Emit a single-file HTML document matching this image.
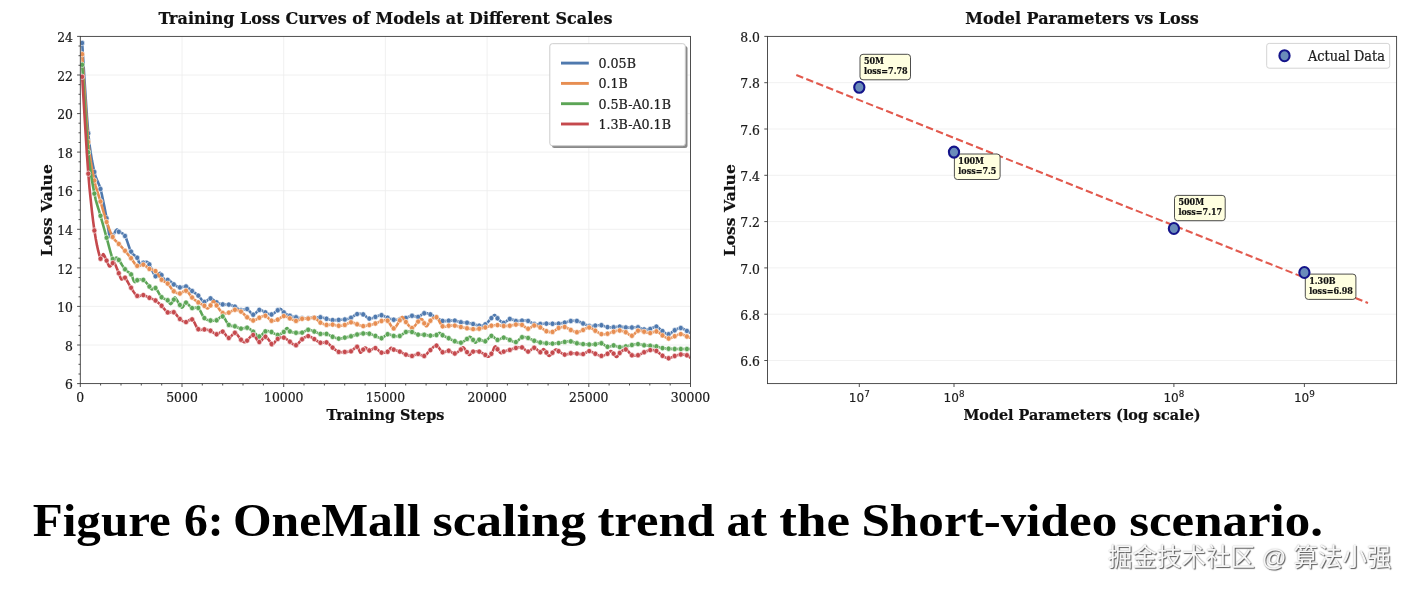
<!DOCTYPE html>
<html lang="en"><head><meta charset="utf-8"><title>Figure 6: OneMall scaling trend</title>
<style>
html,body{margin:0;padding:0;background:#fff}
body{width:1412px;height:590px;overflow:hidden;position:relative}
svg{display:block}
.s{font-family:"DejaVu Serif","Liberation Serif",serif;stroke:#1c1c1c;stroke-width:.22px}
.sb{font-family:"DejaVu Serif","Liberation Serif",serif;font-weight:bold;stroke:#111;stroke-width:.2px}
.ss{font-family:"DejaVu Sans","Liberation Sans",sans-serif;stroke:#1c1c1c;stroke-width:.15px}
.cap{font-family:"Liberation Serif","DejaVu Serif",serif;font-weight:bold}
.wm{font-family:"Liberation Sans","Noto Sans CJK SC","WenQuanYi Zen Hei",sans-serif}
</style></head>
<body>
<svg width="1412" height="590" viewBox="0 0 1412 590">
<rect width="1412" height="590" fill="#fff"/>
<defs><clipPath id="cl"><rect x="80.3" y="36.4" width="610.2" height="347.2"/></clipPath></defs>
<path d="M80.3,345.0H690.5M80.3,306.4H690.5M80.3,267.9H690.5M80.3,229.3H690.5M80.3,190.7H690.5M80.3,152.1H690.5M80.3,113.6H690.5M80.3,75.0H690.5M182.0,36.4V383.6M283.7,36.4V383.6M385.4,36.4V383.6M487.1,36.4V383.6M588.8,36.4V383.6" stroke="#ececec" stroke-width="0.8" fill="none"/>
<g clip-path="url(#cl)">
<path d="M82.2,43.0 L83.0,56.1 L84.2,75.1 L85.6,96.6 L87.0,117.1 L88.3,133.3 L89.5,144.7 L90.8,153.5 L92.0,160.6 L93.2,166.5 L94.4,172.0 L95.6,176.6 L96.9,179.8 L98.1,182.4 L99.3,185.2 L100.5,189.0 L101.8,194.3 L103.1,200.4 L104.4,206.8 L105.6,213.0 L106.6,218.3 L107.4,222.9 L108.0,227.0 L108.6,230.7 L109.0,233.7 L109.6,235.9 L110.2,237.1 L110.8,237.3 L111.4,236.9 L112.1,236.2 L112.7,235.5 L113.5,234.5 L114.4,233.1 L115.2,231.6 L116.0,230.3 L116.7,229.6 L117.2,229.5 L117.5,229.8 L117.8,230.4 L118.2,231.1 L118.8,231.8 L119.8,232.3 L121.0,232.8 L122.3,233.4 L123.7,234.4 L125.0,236.0 L126.2,238.5 L127.4,241.9 L128.6,245.5 L129.8,248.9 L131.1,251.6 L132.3,253.5 L133.7,254.8 L135.0,255.8 L136.2,256.8 L137.2,257.8 L137.9,259.0 L138.3,260.3 L138.6,261.5 L139.0,262.5 L139.5,263.2 L140.2,263.5 L140.9,263.5 L141.7,263.3 L142.5,263.0 L143.3,262.8 L144.0,262.6 L144.8,262.3 L145.5,262.0 L146.2,261.8 L146.8,261.8 L147.3,261.9 L147.7,262.1 L148.1,262.5 L148.7,263.2 L149.4,264.4 L150.4,266.4 L151.7,269.2 L153.0,272.1 L154.3,274.7 L155.5,276.2 L156.5,276.4 L157.5,275.7 L158.4,274.5 L159.2,273.4 L159.9,272.9 L160.4,272.9 L160.7,273.2 L160.9,273.7 L161.2,274.3 L161.6,275.1 L162.3,276.2 L163.1,277.6 L164.0,279.1 L164.8,280.4 L165.5,281.2 L166.1,281.4 L166.6,281.2 L167.0,280.7 L167.4,280.2 L167.7,279.9 L168.0,279.7 L168.1,279.5 L168.2,279.4 L168.4,279.4 L168.9,279.7 L169.6,280.4 L170.5,281.3 L171.6,282.4 L172.7,283.5 L173.8,284.4 L175.0,285.2 L176.2,285.9 L177.4,286.6 L178.7,287.1 L179.9,287.4 L181.1,287.4 L182.4,287.1 L183.6,286.7 L184.8,286.4 L186.0,286.5 L187.3,287.1 L188.5,287.9 L189.7,288.9 L190.9,290.0 L192.1,291.0 L193.4,291.9 L194.6,292.7 L195.8,293.6 L197.0,294.6 L198.3,295.6 L199.5,296.9 L200.7,298.5 L201.9,300.1 L203.1,301.3 L204.4,302.0 L205.6,301.8 L206.8,300.9 L208.0,299.8 L209.2,298.8 L210.5,298.4 L211.7,298.7 L212.9,299.5 L214.1,300.6 L215.4,301.6 L216.6,302.4 L217.8,303.0 L219.0,303.4 L220.2,303.8 L221.5,304.1 L222.7,304.4 L223.9,304.5 L225.1,304.5 L226.3,304.5 L227.6,304.5 L228.8,304.6 L230.0,304.9 L231.2,305.2 L232.5,305.6 L233.7,306.1 L234.9,306.6 L236.1,307.3 L237.3,308.2 L238.6,309.1 L239.8,309.9 L241.0,310.3 L242.2,310.2 L243.5,309.8 L244.7,309.3 L245.9,308.9 L247.1,309.0 L248.3,309.9 L249.6,311.3 L250.8,312.8 L252.0,314.1 L253.2,314.7 L254.4,314.3 L255.7,313.2 L256.9,311.8 L258.1,310.6 L259.3,309.9 L260.6,309.9 L261.8,310.4 L263.0,311.1 L264.2,311.8 L265.4,312.4 L266.7,312.9 L267.9,313.6 L269.1,314.1 L270.3,314.5 L271.5,314.5 L272.8,314.0 L274.1,313.1 L275.4,312.1 L276.6,311.1 L277.7,310.3 L278.4,309.8 L279.1,309.3 L279.6,309.0 L280.0,308.9 L280.6,309.0 L281.2,309.4 L281.7,310.0 L282.3,310.8 L282.9,311.6 L283.8,312.4 L284.8,313.1 L286.0,313.9 L287.3,314.6 L288.6,315.2 L289.9,315.8 L291.1,316.2 L292.3,316.6 L293.5,316.8 L294.8,317.1 L296.0,317.3 L297.2,317.5 L298.4,317.8 L299.6,318.0 L300.9,318.2 L302.1,318.3 L303.3,318.4 L304.5,318.4 L305.8,318.3 L307.0,318.3 L308.2,318.2 L309.4,318.1 L310.6,318.0 L311.9,317.8 L313.1,317.7 L314.3,317.6 L315.5,317.5 L316.7,317.4 L318.0,317.3 L319.2,317.2 L320.4,317.3 L321.6,317.5 L322.9,317.8 L324.1,318.1 L325.3,318.5 L326.5,318.8 L327.7,319.1 L329.0,319.4 L330.2,319.7 L331.4,319.9 L332.6,320.1 L333.8,320.2 L335.1,320.1 L336.3,320.1 L337.5,320.0 L338.7,319.9 L340.0,319.9 L341.2,319.8 L342.4,319.8 L343.6,319.7 L344.8,319.5 L346.1,319.3 L347.3,319.0 L348.5,318.7 L349.7,318.3 L351.0,317.8 L352.2,317.1 L353.4,316.3 L354.6,315.4 L355.8,314.6 L357.1,314.1 L358.3,313.8 L359.5,313.7 L360.7,313.8 L361.9,314.0 L363.2,314.4 L364.4,315.1 L365.6,316.1 L366.8,317.2 L368.1,318.1 L369.3,318.6 L370.5,318.6 L371.7,318.3 L372.9,317.9 L374.2,317.3 L375.4,316.9 L376.6,316.5 L377.8,316.0 L379.0,315.6 L380.3,315.3 L381.5,315.2 L382.7,315.5 L383.9,316.0 L385.2,316.6 L386.4,317.3 L387.6,317.8 L388.8,318.3 L390.0,318.7 L391.3,319.1 L392.5,319.5 L393.7,319.7 L394.9,319.8 L396.2,319.8 L397.4,319.8 L398.6,319.7 L399.8,319.5 L401.0,319.3 L402.3,319.0 L403.5,318.7 L404.7,318.4 L405.9,318.0 L407.1,317.6 L408.4,317.0 L409.6,316.5 L410.8,316.0 L412.0,315.8 L413.3,315.9 L414.5,316.2 L415.7,316.6 L416.9,316.9 L418.1,316.9 L419.4,316.4 L420.6,315.6 L421.8,314.6 L423.0,313.8 L424.2,313.3 L425.5,313.2 L426.7,313.3 L427.9,313.6 L429.1,314.0 L430.4,314.4 L431.6,314.9 L432.8,315.5 L434.0,316.1 L435.2,316.8 L436.5,317.5 L437.7,318.2 L438.9,319.0 L440.1,319.8 L441.4,320.4 L442.6,320.9 L443.8,321.1 L445.0,321.1 L446.2,320.9 L447.5,320.8 L448.7,320.7 L449.9,320.6 L451.1,320.6 L452.3,320.5 L453.6,320.5 L454.8,320.6 L456.0,320.8 L457.2,321.2 L458.5,321.6 L459.7,322.0 L460.9,322.3 L462.1,322.4 L463.3,322.5 L464.6,322.5 L465.8,322.6 L467.0,322.7 L468.2,322.9 L469.4,323.1 L470.7,323.4 L471.9,323.7 L473.1,324.0 L474.3,324.4 L475.6,324.8 L476.8,325.2 L478.0,325.5 L479.2,325.7 L480.4,325.7 L481.7,325.6 L482.9,325.4 L484.1,325.0 L485.3,324.4 L486.6,323.4 L487.9,322.1 L489.2,320.6 L490.4,319.2 L491.4,318.1 L492.3,317.2 L492.9,316.4 L493.5,315.7 L494.0,315.3 L494.6,315.1 L495.2,315.3 L495.6,315.9 L496.1,316.6 L496.8,317.5 L497.5,318.3 L498.6,319.3 L499.8,320.5 L501.1,321.6 L502.4,322.5 L503.7,322.9 L504.9,322.6 L506.1,321.6 L507.3,320.5 L508.5,319.4 L509.8,318.9 L511.0,319.0 L512.2,319.4 L513.4,320.0 L514.6,320.6 L515.9,321.0 L517.1,321.1 L518.3,321.0 L519.5,320.8 L520.8,320.7 L522.0,320.6 L523.2,320.6 L524.4,320.5 L525.6,320.5 L526.9,320.6 L528.1,320.9 L529.3,321.4 L530.5,322.1 L531.7,322.8 L533.0,323.5 L534.2,324.0 L535.4,324.2 L536.6,324.2 L537.9,324.2 L539.1,324.1 L540.3,324.0 L541.5,323.9 L542.7,323.8 L544.0,323.7 L545.2,323.6 L546.4,323.6 L547.6,323.6 L548.9,323.7 L550.1,323.7 L551.3,323.8 L552.5,323.8 L553.7,323.8 L555.0,323.8 L556.2,323.8 L557.4,323.7 L558.6,323.6 L559.8,323.5 L561.1,323.3 L562.3,323.1 L563.5,322.9 L564.7,322.6 L566.0,322.3 L567.2,321.9 L568.4,321.6 L569.6,321.2 L570.8,321.0 L572.1,320.8 L573.3,320.7 L574.5,320.7 L575.7,320.7 L576.9,320.9 L578.2,321.2 L579.4,321.8 L580.6,322.3 L581.8,322.9 L583.1,323.5 L584.3,324.1 L585.5,324.6 L586.7,325.2 L587.9,325.7 L589.2,326.0 L590.4,326.1 L591.6,326.0 L592.8,325.9 L594.1,325.7 L595.3,325.6 L596.5,325.5 L597.7,325.3 L598.9,325.2 L600.2,325.1 L601.4,325.2 L602.6,325.5 L603.8,325.9 L605.0,326.4 L606.3,326.8 L607.5,327.1 L608.7,327.3 L609.9,327.3 L611.2,327.4 L612.4,327.3 L613.6,327.3 L614.8,327.2 L616.0,327.0 L617.3,326.8 L618.5,326.7 L619.7,326.6 L620.9,326.7 L622.1,326.9 L623.4,327.1 L624.6,327.4 L625.8,327.5 L627.0,327.6 L628.3,327.6 L629.5,327.6 L630.7,327.5 L631.9,327.5 L633.1,327.4 L634.4,327.3 L635.6,327.2 L636.8,327.2 L638.0,327.3 L639.2,327.6 L640.5,328.1 L641.7,328.6 L642.9,329.1 L644.1,329.4 L645.4,329.5 L646.6,329.5 L647.8,329.4 L649.0,329.2 L650.2,329.0 L651.5,328.5 L652.7,327.9 L653.9,327.2 L655.1,326.7 L656.4,326.6 L657.6,327.1 L658.8,328.0 L660.0,329.1 L661.2,330.2 L662.5,331.1 L663.7,331.9 L664.9,332.8 L666.1,333.6 L667.3,334.1 L668.6,334.3 L669.8,333.9 L671.0,333.1 L672.2,332.1 L673.5,331.1 L674.7,330.3 L675.9,329.6 L677.1,329.0 L678.3,328.5 L679.6,328.1 L680.8,328.0 L682.0,328.3 L683.3,328.8 L684.6,329.6 L685.8,330.3 L686.9,330.9 L687.8,331.4 L688.7,331.8 L689.4,332.2 L690.0,332.6 L690.5,332.8" fill="none" stroke="#4f79ae" stroke-width="2.6" stroke-linejoin="round"/>
<g fill="#4f79ae" stroke="#fff" stroke-width="0.6"><ellipse cx="82.2" cy="43.0" rx="2.50" ry="2.70"/><ellipse cx="88.3" cy="133.3" rx="2.50" ry="2.70"/><ellipse cx="94.4" cy="172.0" rx="2.50" ry="2.70"/><ellipse cx="100.5" cy="189.0" rx="2.50" ry="2.70"/><ellipse cx="106.6" cy="218.3" rx="2.50" ry="2.70"/><ellipse cx="112.7" cy="235.5" rx="2.50" ry="2.70"/><ellipse cx="118.8" cy="231.8" rx="2.50" ry="2.70"/><ellipse cx="125.0" cy="236.0" rx="2.50" ry="2.70"/><ellipse cx="131.1" cy="251.6" rx="2.50" ry="2.70"/><ellipse cx="137.2" cy="257.8" rx="2.50" ry="2.70"/><ellipse cx="143.3" cy="262.8" rx="2.50" ry="2.70"/><ellipse cx="149.4" cy="264.4" rx="2.50" ry="2.70"/><ellipse cx="155.5" cy="276.2" rx="2.50" ry="2.70"/><ellipse cx="161.6" cy="275.1" rx="2.50" ry="2.70"/><ellipse cx="167.7" cy="279.9" rx="2.50" ry="2.70"/><ellipse cx="173.8" cy="284.4" rx="2.50" ry="2.70"/><ellipse cx="179.9" cy="287.4" rx="2.50" ry="2.70"/><ellipse cx="186.0" cy="286.5" rx="2.50" ry="2.70"/><ellipse cx="192.1" cy="291.0" rx="2.50" ry="2.70"/><ellipse cx="198.3" cy="295.6" rx="2.50" ry="2.70"/><ellipse cx="204.4" cy="302.0" rx="2.50" ry="2.70"/><ellipse cx="210.5" cy="298.4" rx="2.50" ry="2.70"/><ellipse cx="216.6" cy="302.4" rx="2.50" ry="2.70"/><ellipse cx="222.7" cy="304.4" rx="2.50" ry="2.70"/><ellipse cx="228.8" cy="304.6" rx="2.50" ry="2.70"/><ellipse cx="234.9" cy="306.6" rx="2.50" ry="2.70"/><ellipse cx="241.0" cy="310.3" rx="2.50" ry="2.70"/><ellipse cx="247.1" cy="309.0" rx="2.50" ry="2.70"/><ellipse cx="253.2" cy="314.7" rx="2.50" ry="2.70"/><ellipse cx="259.3" cy="309.9" rx="2.50" ry="2.70"/><ellipse cx="265.4" cy="312.4" rx="2.50" ry="2.70"/><ellipse cx="271.5" cy="314.5" rx="2.50" ry="2.70"/><ellipse cx="277.7" cy="310.3" rx="2.50" ry="2.70"/><ellipse cx="283.8" cy="312.4" rx="2.50" ry="2.70"/><ellipse cx="289.9" cy="315.8" rx="2.50" ry="2.70"/><ellipse cx="296.0" cy="317.3" rx="2.50" ry="2.70"/><ellipse cx="302.1" cy="318.3" rx="2.50" ry="2.70"/><ellipse cx="308.2" cy="318.2" rx="2.50" ry="2.70"/><ellipse cx="314.3" cy="317.6" rx="2.50" ry="2.70"/><ellipse cx="320.4" cy="317.3" rx="2.50" ry="2.70"/><ellipse cx="326.5" cy="318.8" rx="2.50" ry="2.70"/><ellipse cx="332.6" cy="320.1" rx="2.50" ry="2.70"/><ellipse cx="338.7" cy="319.9" rx="2.50" ry="2.70"/><ellipse cx="344.8" cy="319.5" rx="2.50" ry="2.70"/><ellipse cx="351.0" cy="317.8" rx="2.50" ry="2.70"/><ellipse cx="357.1" cy="314.1" rx="2.50" ry="2.70"/><ellipse cx="363.2" cy="314.4" rx="2.50" ry="2.70"/><ellipse cx="369.3" cy="318.6" rx="2.50" ry="2.70"/><ellipse cx="375.4" cy="316.9" rx="2.50" ry="2.70"/><ellipse cx="381.5" cy="315.2" rx="2.50" ry="2.70"/><ellipse cx="387.6" cy="317.8" rx="2.50" ry="2.70"/><ellipse cx="393.7" cy="319.7" rx="2.50" ry="2.70"/><ellipse cx="399.8" cy="319.5" rx="2.50" ry="2.70"/><ellipse cx="405.9" cy="318.0" rx="2.50" ry="2.70"/><ellipse cx="412.0" cy="315.8" rx="2.50" ry="2.70"/><ellipse cx="418.1" cy="316.9" rx="2.50" ry="2.70"/><ellipse cx="424.2" cy="313.3" rx="2.50" ry="2.70"/><ellipse cx="430.4" cy="314.4" rx="2.50" ry="2.70"/><ellipse cx="436.5" cy="317.5" rx="2.50" ry="2.70"/><ellipse cx="442.6" cy="320.9" rx="2.50" ry="2.70"/><ellipse cx="448.7" cy="320.7" rx="2.50" ry="2.70"/><ellipse cx="454.8" cy="320.6" rx="2.50" ry="2.70"/><ellipse cx="460.9" cy="322.3" rx="2.50" ry="2.70"/><ellipse cx="467.0" cy="322.7" rx="2.50" ry="2.70"/><ellipse cx="473.1" cy="324.0" rx="2.50" ry="2.70"/><ellipse cx="479.2" cy="325.7" rx="2.50" ry="2.70"/><ellipse cx="485.3" cy="324.4" rx="2.50" ry="2.70"/><ellipse cx="491.4" cy="318.1" rx="2.50" ry="2.70"/><ellipse cx="497.5" cy="318.3" rx="2.50" ry="2.70"/><ellipse cx="503.7" cy="322.9" rx="2.50" ry="2.70"/><ellipse cx="509.8" cy="318.9" rx="2.50" ry="2.70"/><ellipse cx="515.9" cy="321.0" rx="2.50" ry="2.70"/><ellipse cx="522.0" cy="320.6" rx="2.50" ry="2.70"/><ellipse cx="528.1" cy="320.9" rx="2.50" ry="2.70"/><ellipse cx="534.2" cy="324.0" rx="2.50" ry="2.70"/><ellipse cx="540.3" cy="324.0" rx="2.50" ry="2.70"/><ellipse cx="546.4" cy="323.6" rx="2.50" ry="2.70"/><ellipse cx="552.5" cy="323.8" rx="2.50" ry="2.70"/><ellipse cx="558.6" cy="323.6" rx="2.50" ry="2.70"/><ellipse cx="564.7" cy="322.6" rx="2.50" ry="2.70"/><ellipse cx="570.8" cy="321.0" rx="2.50" ry="2.70"/><ellipse cx="576.9" cy="320.9" rx="2.50" ry="2.70"/><ellipse cx="583.1" cy="323.5" rx="2.50" ry="2.70"/><ellipse cx="589.2" cy="326.0" rx="2.50" ry="2.70"/><ellipse cx="595.3" cy="325.6" rx="2.50" ry="2.70"/><ellipse cx="601.4" cy="325.2" rx="2.50" ry="2.70"/><ellipse cx="607.5" cy="327.1" rx="2.50" ry="2.70"/><ellipse cx="613.6" cy="327.3" rx="2.50" ry="2.70"/><ellipse cx="619.7" cy="326.6" rx="2.50" ry="2.70"/><ellipse cx="625.8" cy="327.5" rx="2.50" ry="2.70"/><ellipse cx="631.9" cy="327.5" rx="2.50" ry="2.70"/><ellipse cx="638.0" cy="327.3" rx="2.50" ry="2.70"/><ellipse cx="644.1" cy="329.4" rx="2.50" ry="2.70"/><ellipse cx="650.2" cy="329.0" rx="2.50" ry="2.70"/><ellipse cx="656.4" cy="326.6" rx="2.50" ry="2.70"/><ellipse cx="662.5" cy="331.1" rx="2.50" ry="2.70"/><ellipse cx="668.6" cy="334.3" rx="2.50" ry="2.70"/><ellipse cx="674.7" cy="330.3" rx="2.50" ry="2.70"/><ellipse cx="680.8" cy="328.0" rx="2.50" ry="2.70"/><ellipse cx="686.9" cy="330.9" rx="2.50" ry="2.70"/></g>
<path d="M82.2,54.2 L83.0,66.9 L84.2,85.4 L85.6,106.2 L87.0,126.2 L88.3,142.0 L89.5,153.1 L90.8,161.8 L92.0,168.7 L93.2,174.7 L94.4,180.5 L95.6,185.8 L96.9,190.2 L98.1,194.0 L99.3,197.6 L100.5,201.5 L101.7,205.7 L103.0,210.0 L104.2,214.2 L105.4,218.3 L106.6,222.0 L107.9,225.5 L109.1,228.8 L110.3,231.8 L111.5,234.6 L112.7,237.0 L114.0,238.9 L115.2,240.3 L116.4,241.5 L117.6,242.6 L118.8,243.9 L120.1,245.3 L121.3,246.6 L122.5,248.0 L123.7,249.4 L125.0,250.8 L126.2,252.2 L127.4,253.7 L128.6,255.2 L129.8,256.7 L131.1,258.2 L132.3,259.9 L133.5,261.7 L134.7,263.5 L136.0,264.9 L137.2,265.9 L138.4,266.1 L139.6,265.8 L140.8,265.1 L142.1,264.6 L143.3,264.6 L144.5,265.1 L145.7,266.0 L146.9,267.1 L148.2,268.1 L149.4,268.9 L150.6,269.4 L151.8,269.6 L153.1,269.9 L154.3,270.3 L155.5,271.1 L156.7,272.5 L157.9,274.3 L159.2,276.3 L160.4,278.2 L161.6,279.7 L162.8,280.7 L164.0,281.4 L165.3,282.0 L166.5,282.7 L167.7,283.6 L168.9,285.0 L170.2,286.7 L171.4,288.4 L172.6,290.1 L173.8,291.3 L175.0,292.2 L176.3,292.8 L177.5,293.2 L178.7,293.5 L179.9,293.5 L181.1,293.1 L182.4,292.3 L183.6,291.4 L184.8,290.7 L186.0,290.7 L187.3,291.5 L188.5,292.8 L189.7,294.5 L190.9,296.1 L192.1,297.5 L193.4,298.6 L194.6,299.7 L195.8,300.6 L197.0,301.5 L198.3,302.4 L199.5,303.2 L200.8,303.9 L202.1,304.6 L203.3,305.2 L204.4,305.8 L205.2,306.5 L205.8,307.2 L206.4,307.8 L206.9,308.3 L207.5,308.4 L208.1,308.2 L208.7,307.7 L209.3,307.0 L209.9,306.2 L210.5,305.4 L211.1,304.5 L211.7,303.4 L212.3,302.3 L212.9,301.4 L213.5,301.1 L214.1,301.4 L214.6,302.0 L215.1,303.0 L215.8,304.2 L216.6,305.4 L217.6,306.8 L218.8,308.6 L220.1,310.4 L221.4,311.9 L222.7,313.0 L223.9,313.5 L225.1,313.5 L226.3,313.3 L227.6,313.0 L228.8,312.6 L230.0,312.1 L231.2,311.4 L232.5,310.7 L233.7,310.1 L234.9,309.8 L236.1,309.8 L237.3,310.0 L238.6,310.4 L239.8,310.9 L241.0,311.6 L242.2,312.5 L243.5,313.7 L244.7,315.0 L245.9,316.3 L247.1,317.3 L248.3,318.2 L249.6,319.0 L250.8,319.8 L252.0,320.3 L253.2,320.5 L254.4,320.3 L255.7,319.8 L256.9,319.1 L258.1,318.4 L259.3,317.8 L260.6,317.2 L261.8,316.6 L263.0,316.1 L264.2,315.7 L265.4,315.8 L266.7,316.4 L267.9,317.6 L269.1,318.8 L270.3,320.0 L271.5,320.7 L272.8,320.9 L274.0,320.8 L275.2,320.5 L276.4,320.1 L277.7,319.6 L278.9,319.0 L280.1,318.1 L281.3,317.2 L282.5,316.5 L283.8,316.1 L285.0,316.2 L286.2,316.6 L287.4,317.2 L288.7,317.8 L289.9,318.4 L291.1,319.0 L292.3,319.6 L293.5,320.2 L294.8,320.7 L296.0,320.9 L297.2,320.7 L298.4,320.3 L299.6,319.7 L300.9,319.2 L302.1,318.8 L303.3,318.6 L304.5,318.6 L305.8,318.6 L307.0,318.6 L308.2,318.6 L309.4,318.4 L310.6,318.1 L311.9,317.7 L313.1,317.6 L314.3,317.8 L315.5,318.4 L316.7,319.4 L318.0,320.6 L319.2,321.7 L320.4,322.6 L321.6,323.3 L322.9,323.8 L324.1,324.3 L325.3,324.6 L326.5,324.9 L327.7,325.0 L329.0,324.9 L330.2,324.7 L331.4,324.6 L332.6,324.6 L333.8,324.8 L335.1,325.1 L336.3,325.4 L337.5,325.7 L338.7,325.8 L340.0,325.8 L341.2,325.7 L342.4,325.5 L343.6,325.2 L344.8,324.9 L346.1,324.4 L347.3,323.8 L348.5,323.1 L349.7,322.6 L351.0,322.3 L352.2,322.4 L353.4,322.8 L354.6,323.3 L355.8,323.8 L357.1,324.3 L358.3,324.7 L359.5,325.2 L360.7,325.6 L361.9,325.9 L363.2,326.1 L364.4,326.1 L365.6,325.9 L366.8,325.6 L368.1,325.3 L369.3,325.0 L370.5,324.7 L371.7,324.5 L372.9,324.2 L374.2,323.9 L375.4,323.5 L376.6,323.0 L377.8,322.5 L379.0,321.9 L380.3,321.4 L381.5,321.0 L382.7,320.7 L383.9,320.3 L385.2,320.1 L386.4,320.2 L387.6,320.7 L388.8,322.0 L390.0,324.0 L391.3,326.1 L392.5,327.7 L393.7,328.4 L395.0,327.7 L396.3,326.1 L397.6,324.0 L398.8,321.9 L399.8,320.3 L400.5,319.2 L401.1,318.2 L401.5,317.4 L401.9,317.0 L402.4,316.9 L403.0,317.4 L403.6,318.3 L404.3,319.5 L405.0,320.8 L405.9,322.0 L407.0,323.3 L408.2,324.9 L409.5,326.4 L410.8,327.6 L412.0,328.0 L413.3,327.5 L414.6,326.2 L415.9,324.5 L417.1,322.8 L418.1,321.6 L419.0,320.7 L419.8,320.0 L420.4,319.4 L421.0,319.0 L421.6,319.0 L422.2,319.4 L422.7,320.3 L423.2,321.3 L423.7,322.4 L424.2,323.3 L424.7,324.1 L425.2,325.0 L425.6,325.8 L426.1,326.3 L426.7,326.3 L427.3,325.7 L428.0,324.6 L428.7,323.2 L429.4,321.8 L430.4,320.7 L431.4,319.7 L432.6,318.5 L433.9,317.6 L435.2,317.1 L436.5,317.2 L437.7,318.4 L438.9,320.4 L440.1,322.8 L441.4,324.9 L442.6,326.3 L443.8,326.8 L445.0,326.7 L446.2,326.4 L447.5,325.9 L448.7,325.7 L449.9,325.6 L451.1,325.6 L452.3,325.5 L453.6,325.5 L454.8,325.6 L456.0,325.8 L457.2,326.1 L458.5,326.4 L459.7,326.7 L460.9,327.0 L462.1,327.3 L463.3,327.6 L464.6,327.8 L465.8,328.1 L467.0,328.3 L468.2,328.5 L469.4,328.7 L470.7,328.9 L471.9,329.0 L473.1,329.1 L474.3,329.1 L475.6,329.1 L476.8,329.0 L478.0,328.9 L479.2,328.7 L480.4,328.5 L481.7,328.3 L482.9,328.0 L484.1,327.7 L485.3,327.4 L486.5,327.1 L487.8,326.7 L489.0,326.3 L490.2,326.0 L491.4,325.7 L492.7,325.5 L493.9,325.3 L495.1,325.2 L496.3,325.1 L497.5,325.1 L498.8,325.2 L500.0,325.4 L501.2,325.7 L502.4,325.9 L503.7,326.0 L504.9,326.0 L506.1,326.0 L507.3,325.9 L508.5,325.8 L509.8,325.7 L511.0,325.5 L512.2,325.3 L513.4,325.0 L514.6,324.7 L515.9,324.6 L517.1,324.5 L518.3,324.5 L519.5,324.5 L520.8,324.6 L522.0,324.9 L523.2,325.5 L524.4,326.5 L525.6,327.5 L526.9,328.3 L528.1,328.7 L529.3,328.4 L530.5,327.7 L531.7,326.7 L533.0,325.9 L534.2,325.5 L535.4,325.5 L536.6,325.8 L537.9,326.3 L539.1,326.8 L540.3,327.4 L541.5,328.1 L542.7,328.9 L544.0,329.8 L545.2,330.6 L546.4,331.2 L547.6,331.6 L548.9,331.9 L550.1,332.1 L551.3,332.1 L552.5,331.9 L553.7,331.4 L555.0,330.5 L556.2,329.6 L557.4,328.7 L558.6,328.0 L559.8,327.6 L561.1,327.2 L562.3,327.0 L563.5,326.9 L564.7,327.0 L566.0,327.4 L567.2,328.0 L568.4,328.7 L569.6,329.4 L570.8,330.0 L572.1,330.6 L573.3,331.1 L574.5,331.7 L575.7,332.1 L576.9,332.2 L578.2,332.0 L579.4,331.7 L580.6,331.1 L581.8,330.5 L583.1,330.0 L584.3,329.4 L585.5,328.7 L586.7,328.1 L587.9,327.6 L589.2,327.5 L590.4,327.8 L591.6,328.4 L592.8,329.1 L594.1,330.0 L595.3,330.7 L596.5,331.4 L597.7,332.2 L598.9,333.0 L600.2,333.7 L601.4,334.1 L602.6,334.3 L603.8,334.3 L605.0,334.2 L606.3,333.9 L607.5,333.7 L608.7,333.4 L609.9,333.0 L611.2,332.5 L612.4,332.1 L613.6,331.7 L614.8,331.4 L616.0,331.0 L617.3,330.7 L618.5,330.5 L619.7,330.5 L620.9,330.6 L622.1,330.9 L623.4,331.2 L624.6,331.7 L625.8,332.2 L627.0,332.9 L628.3,333.9 L629.5,334.9 L630.7,335.6 L631.9,335.8 L633.1,335.2 L634.4,334.1 L635.6,332.7 L636.8,331.5 L638.0,330.7 L639.2,330.5 L640.5,330.6 L641.7,331.0 L642.9,331.4 L644.1,331.7 L645.4,332.0 L646.6,332.4 L647.8,332.7 L649.0,333.0 L650.2,333.1 L651.5,332.9 L652.7,332.4 L653.9,331.8 L655.1,331.4 L656.4,331.4 L657.6,331.8 L658.8,332.6 L660.0,333.6 L661.2,334.6 L662.5,335.4 L663.7,336.2 L664.9,337.0 L666.1,337.7 L667.3,338.2 L668.6,338.5 L669.8,338.4 L671.0,338.0 L672.2,337.4 L673.5,336.7 L674.7,336.2 L675.9,335.7 L677.1,335.1 L678.3,334.6 L679.6,334.2 L680.8,334.1 L682.0,334.3 L683.3,334.8 L684.6,335.4 L685.8,336.0 L686.9,336.5 L687.8,336.9 L688.7,337.2 L689.4,337.5 L690.0,337.7 L690.5,337.9" fill="none" stroke="#e78e52" stroke-width="2.6" stroke-linejoin="round"/>
<g fill="#e78e52" stroke="#fff" stroke-width="0.6"><ellipse cx="82.2" cy="54.2" rx="2.50" ry="2.70"/><ellipse cx="88.3" cy="142.0" rx="2.50" ry="2.70"/><ellipse cx="94.4" cy="180.5" rx="2.50" ry="2.70"/><ellipse cx="100.5" cy="201.5" rx="2.50" ry="2.70"/><ellipse cx="106.6" cy="222.0" rx="2.50" ry="2.70"/><ellipse cx="112.7" cy="237.0" rx="2.50" ry="2.70"/><ellipse cx="118.8" cy="243.9" rx="2.50" ry="2.70"/><ellipse cx="125.0" cy="250.8" rx="2.50" ry="2.70"/><ellipse cx="131.1" cy="258.2" rx="2.50" ry="2.70"/><ellipse cx="137.2" cy="265.9" rx="2.50" ry="2.70"/><ellipse cx="143.3" cy="264.6" rx="2.50" ry="2.70"/><ellipse cx="149.4" cy="268.9" rx="2.50" ry="2.70"/><ellipse cx="155.5" cy="271.1" rx="2.50" ry="2.70"/><ellipse cx="161.6" cy="279.7" rx="2.50" ry="2.70"/><ellipse cx="167.7" cy="283.6" rx="2.50" ry="2.70"/><ellipse cx="173.8" cy="291.3" rx="2.50" ry="2.70"/><ellipse cx="179.9" cy="293.5" rx="2.50" ry="2.70"/><ellipse cx="186.0" cy="290.7" rx="2.50" ry="2.70"/><ellipse cx="192.1" cy="297.5" rx="2.50" ry="2.70"/><ellipse cx="198.3" cy="302.4" rx="2.50" ry="2.70"/><ellipse cx="204.4" cy="305.8" rx="2.50" ry="2.70"/><ellipse cx="210.5" cy="305.4" rx="2.50" ry="2.70"/><ellipse cx="216.6" cy="305.4" rx="2.50" ry="2.70"/><ellipse cx="222.7" cy="313.0" rx="2.50" ry="2.70"/><ellipse cx="228.8" cy="312.6" rx="2.50" ry="2.70"/><ellipse cx="234.9" cy="309.8" rx="2.50" ry="2.70"/><ellipse cx="241.0" cy="311.6" rx="2.50" ry="2.70"/><ellipse cx="247.1" cy="317.3" rx="2.50" ry="2.70"/><ellipse cx="253.2" cy="320.5" rx="2.50" ry="2.70"/><ellipse cx="259.3" cy="317.8" rx="2.50" ry="2.70"/><ellipse cx="265.4" cy="315.8" rx="2.50" ry="2.70"/><ellipse cx="271.5" cy="320.7" rx="2.50" ry="2.70"/><ellipse cx="277.7" cy="319.6" rx="2.50" ry="2.70"/><ellipse cx="283.8" cy="316.1" rx="2.50" ry="2.70"/><ellipse cx="289.9" cy="318.4" rx="2.50" ry="2.70"/><ellipse cx="296.0" cy="320.9" rx="2.50" ry="2.70"/><ellipse cx="302.1" cy="318.8" rx="2.50" ry="2.70"/><ellipse cx="308.2" cy="318.6" rx="2.50" ry="2.70"/><ellipse cx="314.3" cy="317.8" rx="2.50" ry="2.70"/><ellipse cx="320.4" cy="322.6" rx="2.50" ry="2.70"/><ellipse cx="326.5" cy="324.9" rx="2.50" ry="2.70"/><ellipse cx="332.6" cy="324.6" rx="2.50" ry="2.70"/><ellipse cx="338.7" cy="325.8" rx="2.50" ry="2.70"/><ellipse cx="344.8" cy="324.9" rx="2.50" ry="2.70"/><ellipse cx="351.0" cy="322.3" rx="2.50" ry="2.70"/><ellipse cx="357.1" cy="324.3" rx="2.50" ry="2.70"/><ellipse cx="363.2" cy="326.1" rx="2.50" ry="2.70"/><ellipse cx="369.3" cy="325.0" rx="2.50" ry="2.70"/><ellipse cx="375.4" cy="323.5" rx="2.50" ry="2.70"/><ellipse cx="381.5" cy="321.0" rx="2.50" ry="2.70"/><ellipse cx="387.6" cy="320.7" rx="2.50" ry="2.70"/><ellipse cx="393.7" cy="328.4" rx="2.50" ry="2.70"/><ellipse cx="399.8" cy="320.3" rx="2.50" ry="2.70"/><ellipse cx="405.9" cy="322.0" rx="2.50" ry="2.70"/><ellipse cx="412.0" cy="328.0" rx="2.50" ry="2.70"/><ellipse cx="418.1" cy="321.6" rx="2.50" ry="2.70"/><ellipse cx="424.2" cy="323.3" rx="2.50" ry="2.70"/><ellipse cx="430.4" cy="320.7" rx="2.50" ry="2.70"/><ellipse cx="436.5" cy="317.2" rx="2.50" ry="2.70"/><ellipse cx="442.6" cy="326.3" rx="2.50" ry="2.70"/><ellipse cx="448.7" cy="325.7" rx="2.50" ry="2.70"/><ellipse cx="454.8" cy="325.6" rx="2.50" ry="2.70"/><ellipse cx="460.9" cy="327.0" rx="2.50" ry="2.70"/><ellipse cx="467.0" cy="328.3" rx="2.50" ry="2.70"/><ellipse cx="473.1" cy="329.1" rx="2.50" ry="2.70"/><ellipse cx="479.2" cy="328.7" rx="2.50" ry="2.70"/><ellipse cx="485.3" cy="327.4" rx="2.50" ry="2.70"/><ellipse cx="491.4" cy="325.7" rx="2.50" ry="2.70"/><ellipse cx="497.5" cy="325.1" rx="2.50" ry="2.70"/><ellipse cx="503.7" cy="326.0" rx="2.50" ry="2.70"/><ellipse cx="509.8" cy="325.7" rx="2.50" ry="2.70"/><ellipse cx="515.9" cy="324.6" rx="2.50" ry="2.70"/><ellipse cx="522.0" cy="324.9" rx="2.50" ry="2.70"/><ellipse cx="528.1" cy="328.7" rx="2.50" ry="2.70"/><ellipse cx="534.2" cy="325.5" rx="2.50" ry="2.70"/><ellipse cx="540.3" cy="327.4" rx="2.50" ry="2.70"/><ellipse cx="546.4" cy="331.2" rx="2.50" ry="2.70"/><ellipse cx="552.5" cy="331.9" rx="2.50" ry="2.70"/><ellipse cx="558.6" cy="328.0" rx="2.50" ry="2.70"/><ellipse cx="564.7" cy="327.0" rx="2.50" ry="2.70"/><ellipse cx="570.8" cy="330.0" rx="2.50" ry="2.70"/><ellipse cx="576.9" cy="332.2" rx="2.50" ry="2.70"/><ellipse cx="583.1" cy="330.0" rx="2.50" ry="2.70"/><ellipse cx="589.2" cy="327.5" rx="2.50" ry="2.70"/><ellipse cx="595.3" cy="330.7" rx="2.50" ry="2.70"/><ellipse cx="601.4" cy="334.1" rx="2.50" ry="2.70"/><ellipse cx="607.5" cy="333.7" rx="2.50" ry="2.70"/><ellipse cx="613.6" cy="331.7" rx="2.50" ry="2.70"/><ellipse cx="619.7" cy="330.5" rx="2.50" ry="2.70"/><ellipse cx="625.8" cy="332.2" rx="2.50" ry="2.70"/><ellipse cx="631.9" cy="335.8" rx="2.50" ry="2.70"/><ellipse cx="638.0" cy="330.7" rx="2.50" ry="2.70"/><ellipse cx="644.1" cy="331.7" rx="2.50" ry="2.70"/><ellipse cx="650.2" cy="333.1" rx="2.50" ry="2.70"/><ellipse cx="656.4" cy="331.4" rx="2.50" ry="2.70"/><ellipse cx="662.5" cy="335.4" rx="2.50" ry="2.70"/><ellipse cx="668.6" cy="338.5" rx="2.50" ry="2.70"/><ellipse cx="674.7" cy="336.2" rx="2.50" ry="2.70"/><ellipse cx="680.8" cy="334.1" rx="2.50" ry="2.70"/><ellipse cx="686.9" cy="336.5" rx="2.50" ry="2.70"/></g>
<path d="M82.2,64.8 L83.0,77.4 L84.2,95.7 L85.6,116.4 L87.0,136.4 L88.3,152.3 L89.5,163.8 L90.8,173.1 L92.0,180.7 L93.2,187.3 L94.4,193.6 L95.6,199.3 L96.9,203.9 L98.1,207.9 L99.3,211.7 L100.5,215.8 L101.7,220.2 L103.0,224.6 L104.2,229.0 L105.4,233.4 L106.6,237.7 L107.9,242.4 L109.2,247.4 L110.5,252.1 L111.7,256.2 L112.7,259.0 L113.6,260.1 L114.4,259.9 L115.0,259.0 L115.6,258.0 L116.2,257.6 L116.7,257.7 L117.2,257.9 L117.6,258.3 L118.1,258.9 L118.8,259.9 L119.8,261.4 L121.0,263.3 L122.3,265.4 L123.7,267.5 L125.0,269.2 L126.2,270.5 L127.5,271.5 L128.8,272.4 L130.0,273.3 L131.1,274.4 L131.9,275.9 L132.6,277.7 L133.2,279.5 L133.8,281.0 L134.4,281.9 L134.9,282.1 L135.4,281.8 L135.9,281.2 L136.4,280.6 L137.2,280.2 L138.2,279.9 L139.4,279.6 L140.7,279.5 L142.0,279.5 L143.3,279.9 L144.6,280.8 L145.9,282.2 L147.2,283.8 L148.4,285.3 L149.4,286.5 L150.1,287.4 L150.6,288.2 L151.0,288.8 L151.4,289.2 L151.9,289.5 L152.5,289.3 L153.1,288.7 L153.8,288.0 L154.6,287.7 L155.5,288.0 L156.6,289.3 L157.8,291.2 L159.0,293.4 L160.3,295.6 L161.6,297.2 L162.9,298.2 L164.2,298.8 L165.5,299.3 L166.7,299.7 L167.7,300.3 L168.5,301.1 L169.1,302.2 L169.6,303.1 L170.1,303.9 L170.6,304.1 L171.3,303.7 L172.0,302.8 L172.6,301.6 L173.3,300.5 L173.8,299.6 L174.2,298.9 L174.3,298.2 L174.5,297.7 L174.7,297.4 L175.2,297.7 L176.0,298.6 L177.0,300.2 L178.0,302.0 L179.1,303.7 L179.9,305.0 L180.5,305.9 L181.0,306.7 L181.4,307.3 L181.9,307.6 L182.4,307.5 L183.0,306.8 L183.7,305.6 L184.3,304.2 L185.1,303.0 L186.0,302.6 L187.1,303.1 L188.3,304.3 L189.6,305.8 L190.9,307.2 L192.1,308.1 L193.4,308.3 L194.6,307.9 L195.8,307.5 L197.0,307.4 L198.3,307.9 L199.5,309.4 L200.7,311.6 L201.9,314.1 L203.1,316.4 L204.4,318.1 L205.6,319.1 L206.8,319.7 L208.0,320.1 L209.2,320.3 L210.5,320.5 L211.7,320.7 L212.9,320.8 L214.1,320.8 L215.4,320.6 L216.6,320.3 L217.8,319.6 L219.0,318.4 L220.2,317.2 L221.5,316.4 L222.7,316.4 L223.9,317.4 L225.1,319.2 L226.3,321.4 L227.6,323.5 L228.8,324.9 L230.0,325.6 L231.2,325.9 L232.5,326.0 L233.7,326.1 L234.9,326.3 L236.1,326.8 L237.3,327.3 L238.6,327.9 L239.8,328.3 L241.0,328.6 L242.2,328.5 L243.5,328.2 L244.7,327.9 L245.9,327.6 L247.1,327.7 L248.3,328.2 L249.6,328.9 L250.8,329.8 L252.0,330.8 L253.2,331.7 L254.4,332.8 L255.7,334.0 L256.9,335.3 L258.1,336.2 L259.3,336.5 L260.6,336.0 L261.8,334.9 L263.0,333.5 L264.2,332.2 L265.4,331.4 L266.7,331.1 L267.9,331.1 L269.1,331.3 L270.3,331.6 L271.5,332.0 L272.8,332.5 L274.0,333.3 L275.2,334.0 L276.4,334.7 L277.7,334.9 L278.9,334.7 L280.2,334.2 L281.5,333.5 L282.7,332.7 L283.8,332.0 L284.6,331.2 L285.2,330.2 L285.8,329.2 L286.3,328.4 L286.9,328.1 L287.5,328.3 L288.0,329.0 L288.5,329.9 L289.1,330.7 L289.9,331.4 L290.9,331.8 L292.1,332.2 L293.4,332.4 L294.7,332.7 L296.0,332.8 L297.2,332.9 L298.4,333.0 L299.6,332.9 L300.9,332.8 L302.1,332.6 L303.3,332.1 L304.5,331.5 L305.8,330.7 L307.0,330.1 L308.2,329.8 L309.4,329.8 L310.6,330.1 L311.9,330.6 L313.1,331.0 L314.3,331.5 L315.5,332.0 L316.7,332.5 L318.0,333.1 L319.2,333.6 L320.4,333.9 L321.6,334.0 L322.9,333.9 L324.1,333.8 L325.3,333.8 L326.5,333.9 L327.7,334.3 L329.0,334.9 L330.2,335.6 L331.4,336.2 L332.6,336.8 L333.8,337.3 L335.1,337.7 L336.3,338.1 L337.5,338.4 L338.7,338.6 L340.0,338.6 L341.2,338.4 L342.4,338.2 L343.6,337.9 L344.8,337.6 L346.1,337.4 L347.3,337.1 L348.5,336.9 L349.7,336.6 L351.0,336.3 L352.2,336.0 L353.4,335.6 L354.6,335.2 L355.8,334.8 L357.1,334.5 L358.3,334.2 L359.5,334.0 L360.7,333.8 L361.9,333.6 L363.2,333.5 L364.4,333.4 L365.6,333.4 L366.8,333.4 L368.1,333.5 L369.3,333.7 L370.5,334.0 L371.7,334.4 L372.9,334.9 L374.2,335.4 L375.4,335.9 L376.6,336.5 L377.8,337.1 L379.0,337.7 L380.3,338.1 L381.5,338.2 L382.7,337.7 L383.9,336.8 L385.2,335.7 L386.4,334.7 L387.6,334.2 L388.8,334.2 L390.0,334.5 L391.3,335.1 L392.5,335.6 L393.7,335.9 L394.9,336.1 L396.2,336.3 L397.4,336.3 L398.6,336.3 L399.8,336.0 L401.0,335.4 L402.3,334.5 L403.5,333.5 L404.7,332.6 L405.9,332.0 L407.1,331.7 L408.4,331.6 L409.6,331.6 L410.8,331.8 L412.0,332.0 L413.3,332.4 L414.5,333.0 L415.7,333.6 L416.9,334.2 L418.1,334.6 L419.4,334.8 L420.6,334.8 L421.8,334.8 L423.0,334.8 L424.2,334.8 L425.5,334.9 L426.7,335.1 L427.9,335.4 L429.1,335.5 L430.4,335.6 L431.6,335.6 L433.0,335.5 L434.2,335.4 L435.4,335.2 L436.5,335.0 L437.3,334.6 L437.9,334.1 L438.4,333.5 L438.8,333.1 L439.4,332.9 L440.0,333.1 L440.5,333.5 L441.1,334.0 L441.7,334.6 L442.6,335.2 L443.6,335.8 L444.8,336.3 L446.1,337.0 L447.4,337.6 L448.7,338.2 L449.9,338.8 L451.1,339.5 L452.3,340.1 L453.6,340.7 L454.8,341.2 L456.0,341.7 L457.2,342.2 L458.5,342.6 L459.7,342.8 L460.9,342.7 L462.2,342.3 L463.5,341.5 L464.8,340.6 L466.0,339.6 L467.0,338.9 L467.8,338.3 L468.4,337.7 L468.9,337.2 L469.4,336.9 L470.0,336.8 L470.6,337.1 L471.3,337.7 L471.9,338.4 L472.5,339.2 L473.1,339.9 L473.6,340.6 L474.1,341.3 L474.5,342.0 L474.9,342.5 L475.5,342.7 L476.1,342.4 L476.8,341.7 L477.5,340.8 L478.3,340.1 L479.2,339.7 L480.3,339.8 L481.5,340.3 L482.8,340.9 L484.1,341.4 L485.3,341.3 L486.5,340.5 L487.8,339.2 L489.0,337.7 L490.2,336.5 L491.4,335.9 L492.7,336.2 L493.9,337.1 L495.1,338.3 L496.3,339.4 L497.5,339.9 L498.8,339.8 L500.0,339.2 L501.2,338.5 L502.4,337.9 L503.7,337.6 L504.9,337.8 L506.1,338.2 L507.3,338.8 L508.5,339.4 L509.8,339.9 L511.0,340.5 L512.2,341.1 L513.4,341.7 L514.6,342.1 L515.9,342.1 L517.1,341.5 L518.3,340.4 L519.5,339.1 L520.8,337.9 L522.0,337.2 L523.2,337.0 L524.4,337.0 L525.6,337.3 L526.9,337.6 L528.1,338.0 L529.3,338.4 L530.5,339.0 L531.7,339.7 L533.0,340.3 L534.2,340.8 L535.4,341.2 L536.6,341.6 L537.9,341.9 L539.1,342.2 L540.3,342.5 L541.5,342.7 L542.7,342.9 L544.0,343.1 L545.2,343.2 L546.4,343.3 L547.6,343.4 L548.9,343.5 L550.1,343.6 L551.3,343.6 L552.5,343.6 L553.7,343.6 L555.0,343.5 L556.2,343.4 L557.4,343.3 L558.6,343.1 L559.8,342.9 L561.1,342.6 L562.3,342.4 L563.5,342.1 L564.7,341.9 L566.0,341.7 L567.2,341.5 L568.4,341.4 L569.6,341.3 L570.8,341.4 L572.1,341.6 L573.3,342.0 L574.5,342.5 L575.7,343.0 L576.9,343.3 L578.2,343.5 L579.4,343.7 L580.6,343.9 L581.8,344.0 L583.1,344.1 L584.3,344.2 L585.5,344.3 L586.7,344.4 L587.9,344.5 L589.2,344.5 L590.4,344.5 L591.6,344.5 L592.8,344.5 L594.1,344.4 L595.3,344.3 L596.5,344.1 L597.7,343.7 L598.9,343.4 L600.2,343.2 L601.4,343.3 L602.6,343.8 L603.8,344.6 L605.0,345.5 L606.3,346.3 L607.5,346.8 L608.7,346.8 L609.9,346.4 L611.2,346.0 L612.4,345.6 L613.6,345.4 L614.8,345.6 L616.0,346.0 L617.3,346.4 L618.5,346.9 L619.7,347.1 L620.9,347.1 L622.1,347.0 L623.4,346.8 L624.6,346.6 L625.8,346.4 L627.0,346.2 L628.3,345.9 L629.5,345.6 L630.7,345.3 L631.9,345.0 L633.1,344.8 L634.4,344.5 L635.6,344.3 L636.8,344.1 L638.0,344.1 L639.2,344.2 L640.5,344.5 L641.7,344.8 L642.9,345.1 L644.1,345.3 L645.4,345.4 L646.6,345.5 L647.8,345.6 L649.0,345.7 L650.2,345.8 L651.5,345.9 L652.7,346.0 L653.9,346.1 L655.1,346.2 L656.4,346.4 L657.6,346.7 L658.8,347.1 L660.0,347.4 L661.2,347.8 L662.5,348.1 L663.7,348.3 L664.9,348.4 L666.1,348.5 L667.3,348.6 L668.6,348.7 L669.8,348.8 L671.0,348.9 L672.2,348.9 L673.5,349.0 L674.7,349.0 L675.9,349.0 L677.1,349.0 L678.3,349.0 L679.6,349.0 L680.8,349.0 L682.0,349.0 L683.3,349.0 L684.6,349.0 L685.8,349.0 L686.9,349.0 L687.8,349.0 L688.7,349.0 L689.4,349.0 L690.0,349.0 L690.5,349.0" fill="none" stroke="#5ca556" stroke-width="2.6" stroke-linejoin="round"/>
<g fill="#5ca556" stroke="#fff" stroke-width="0.6"><ellipse cx="82.2" cy="64.8" rx="2.50" ry="2.70"/><ellipse cx="88.3" cy="152.3" rx="2.50" ry="2.70"/><ellipse cx="94.4" cy="193.6" rx="2.50" ry="2.70"/><ellipse cx="100.5" cy="215.8" rx="2.50" ry="2.70"/><ellipse cx="106.6" cy="237.7" rx="2.50" ry="2.70"/><ellipse cx="112.7" cy="259.0" rx="2.50" ry="2.70"/><ellipse cx="118.8" cy="259.9" rx="2.50" ry="2.70"/><ellipse cx="125.0" cy="269.2" rx="2.50" ry="2.70"/><ellipse cx="131.1" cy="274.4" rx="2.50" ry="2.70"/><ellipse cx="137.2" cy="280.2" rx="2.50" ry="2.70"/><ellipse cx="143.3" cy="279.9" rx="2.50" ry="2.70"/><ellipse cx="149.4" cy="286.5" rx="2.50" ry="2.70"/><ellipse cx="155.5" cy="288.0" rx="2.50" ry="2.70"/><ellipse cx="161.6" cy="297.2" rx="2.50" ry="2.70"/><ellipse cx="167.7" cy="300.3" rx="2.50" ry="2.70"/><ellipse cx="173.8" cy="299.6" rx="2.50" ry="2.70"/><ellipse cx="179.9" cy="305.0" rx="2.50" ry="2.70"/><ellipse cx="186.0" cy="302.6" rx="2.50" ry="2.70"/><ellipse cx="192.1" cy="308.1" rx="2.50" ry="2.70"/><ellipse cx="198.3" cy="307.9" rx="2.50" ry="2.70"/><ellipse cx="204.4" cy="318.1" rx="2.50" ry="2.70"/><ellipse cx="210.5" cy="320.5" rx="2.50" ry="2.70"/><ellipse cx="216.6" cy="320.3" rx="2.50" ry="2.70"/><ellipse cx="222.7" cy="316.4" rx="2.50" ry="2.70"/><ellipse cx="228.8" cy="324.9" rx="2.50" ry="2.70"/><ellipse cx="234.9" cy="326.3" rx="2.50" ry="2.70"/><ellipse cx="241.0" cy="328.6" rx="2.50" ry="2.70"/><ellipse cx="247.1" cy="327.7" rx="2.50" ry="2.70"/><ellipse cx="253.2" cy="331.7" rx="2.50" ry="2.70"/><ellipse cx="259.3" cy="336.5" rx="2.50" ry="2.70"/><ellipse cx="265.4" cy="331.4" rx="2.50" ry="2.70"/><ellipse cx="271.5" cy="332.0" rx="2.50" ry="2.70"/><ellipse cx="277.7" cy="334.9" rx="2.50" ry="2.70"/><ellipse cx="283.8" cy="332.0" rx="2.50" ry="2.70"/><ellipse cx="289.9" cy="331.4" rx="2.50" ry="2.70"/><ellipse cx="296.0" cy="332.8" rx="2.50" ry="2.70"/><ellipse cx="302.1" cy="332.6" rx="2.50" ry="2.70"/><ellipse cx="308.2" cy="329.8" rx="2.50" ry="2.70"/><ellipse cx="314.3" cy="331.5" rx="2.50" ry="2.70"/><ellipse cx="320.4" cy="333.9" rx="2.50" ry="2.70"/><ellipse cx="326.5" cy="333.9" rx="2.50" ry="2.70"/><ellipse cx="332.6" cy="336.8" rx="2.50" ry="2.70"/><ellipse cx="338.7" cy="338.6" rx="2.50" ry="2.70"/><ellipse cx="344.8" cy="337.6" rx="2.50" ry="2.70"/><ellipse cx="351.0" cy="336.3" rx="2.50" ry="2.70"/><ellipse cx="357.1" cy="334.5" rx="2.50" ry="2.70"/><ellipse cx="363.2" cy="333.5" rx="2.50" ry="2.70"/><ellipse cx="369.3" cy="333.7" rx="2.50" ry="2.70"/><ellipse cx="375.4" cy="335.9" rx="2.50" ry="2.70"/><ellipse cx="381.5" cy="338.2" rx="2.50" ry="2.70"/><ellipse cx="387.6" cy="334.2" rx="2.50" ry="2.70"/><ellipse cx="393.7" cy="335.9" rx="2.50" ry="2.70"/><ellipse cx="399.8" cy="336.0" rx="2.50" ry="2.70"/><ellipse cx="405.9" cy="332.0" rx="2.50" ry="2.70"/><ellipse cx="412.0" cy="332.0" rx="2.50" ry="2.70"/><ellipse cx="418.1" cy="334.6" rx="2.50" ry="2.70"/><ellipse cx="424.2" cy="334.8" rx="2.50" ry="2.70"/><ellipse cx="430.4" cy="335.6" rx="2.50" ry="2.70"/><ellipse cx="436.5" cy="335.0" rx="2.50" ry="2.70"/><ellipse cx="442.6" cy="335.2" rx="2.50" ry="2.70"/><ellipse cx="448.7" cy="338.2" rx="2.50" ry="2.70"/><ellipse cx="454.8" cy="341.2" rx="2.50" ry="2.70"/><ellipse cx="460.9" cy="342.7" rx="2.50" ry="2.70"/><ellipse cx="467.0" cy="338.9" rx="2.50" ry="2.70"/><ellipse cx="473.1" cy="339.9" rx="2.50" ry="2.70"/><ellipse cx="479.2" cy="339.7" rx="2.50" ry="2.70"/><ellipse cx="485.3" cy="341.3" rx="2.50" ry="2.70"/><ellipse cx="491.4" cy="335.9" rx="2.50" ry="2.70"/><ellipse cx="497.5" cy="339.9" rx="2.50" ry="2.70"/><ellipse cx="503.7" cy="337.6" rx="2.50" ry="2.70"/><ellipse cx="509.8" cy="339.9" rx="2.50" ry="2.70"/><ellipse cx="515.9" cy="342.1" rx="2.50" ry="2.70"/><ellipse cx="522.0" cy="337.2" rx="2.50" ry="2.70"/><ellipse cx="528.1" cy="338.0" rx="2.50" ry="2.70"/><ellipse cx="534.2" cy="340.8" rx="2.50" ry="2.70"/><ellipse cx="540.3" cy="342.5" rx="2.50" ry="2.70"/><ellipse cx="546.4" cy="343.3" rx="2.50" ry="2.70"/><ellipse cx="552.5" cy="343.6" rx="2.50" ry="2.70"/><ellipse cx="558.6" cy="343.1" rx="2.50" ry="2.70"/><ellipse cx="564.7" cy="341.9" rx="2.50" ry="2.70"/><ellipse cx="570.8" cy="341.4" rx="2.50" ry="2.70"/><ellipse cx="576.9" cy="343.3" rx="2.50" ry="2.70"/><ellipse cx="583.1" cy="344.1" rx="2.50" ry="2.70"/><ellipse cx="589.2" cy="344.5" rx="2.50" ry="2.70"/><ellipse cx="595.3" cy="344.3" rx="2.50" ry="2.70"/><ellipse cx="601.4" cy="343.3" rx="2.50" ry="2.70"/><ellipse cx="607.5" cy="346.8" rx="2.50" ry="2.70"/><ellipse cx="613.6" cy="345.4" rx="2.50" ry="2.70"/><ellipse cx="619.7" cy="347.1" rx="2.50" ry="2.70"/><ellipse cx="625.8" cy="346.4" rx="2.50" ry="2.70"/><ellipse cx="631.9" cy="345.0" rx="2.50" ry="2.70"/><ellipse cx="638.0" cy="344.1" rx="2.50" ry="2.70"/><ellipse cx="644.1" cy="345.3" rx="2.50" ry="2.70"/><ellipse cx="650.2" cy="345.8" rx="2.50" ry="2.70"/><ellipse cx="656.4" cy="346.4" rx="2.50" ry="2.70"/><ellipse cx="662.5" cy="348.1" rx="2.50" ry="2.70"/><ellipse cx="668.6" cy="348.7" rx="2.50" ry="2.70"/><ellipse cx="674.7" cy="349.0" rx="2.50" ry="2.70"/><ellipse cx="680.8" cy="349.0" rx="2.50" ry="2.70"/><ellipse cx="686.9" cy="349.0" rx="2.50" ry="2.70"/></g>
<path d="M82.2,76.8 L83.0,90.6 L84.2,110.5 L85.6,133.2 L87.0,155.3 L88.3,173.7 L89.5,188.1 L90.8,200.7 L92.0,211.8 L93.2,221.6 L94.4,230.5 L95.7,238.5 L97.0,245.4 L98.3,251.2 L99.5,255.6 L100.5,258.7 L101.3,259.7 L101.8,258.6 L102.2,256.6 L102.7,254.7 L103.2,254.0 L103.8,254.6 L104.5,255.9 L105.3,257.5 L106.0,259.1 L106.6,260.6 L107.2,262.0 L107.8,263.5 L108.4,264.8 L108.9,265.9 L109.5,266.5 L110.2,266.4 L110.9,265.7 L111.6,264.7 L112.2,263.8 L112.7,263.1 L113.1,262.5 L113.2,261.9 L113.3,261.4 L113.6,261.4 L114.0,262.0 L114.8,263.5 L115.8,265.8 L116.9,268.5 L118.0,271.1 L118.8,273.2 L119.5,274.9 L120.0,276.5 L120.5,277.8 L121.0,278.8 L121.5,279.5 L122.1,279.5 L122.7,278.8 L123.3,278.0 L124.1,277.4 L125.0,277.7 L126.0,279.0 L127.2,281.0 L128.5,283.3 L129.8,285.7 L131.1,287.8 L132.3,289.7 L133.5,291.6 L134.7,293.4 L136.0,294.9 L137.2,295.9 L138.4,296.3 L139.6,296.1 L140.8,295.6 L142.1,295.2 L143.3,295.1 L144.5,295.4 L145.7,295.9 L146.9,296.6 L148.2,297.2 L149.4,297.8 L150.6,298.3 L151.8,298.8 L153.1,299.2 L154.3,299.8 L155.5,300.5 L156.7,301.4 L157.9,302.4 L159.2,303.5 L160.4,304.6 L161.6,305.8 L162.8,307.1 L164.0,308.7 L165.3,310.2 L166.5,311.5 L167.7,312.4 L168.9,312.7 L170.2,312.5 L171.4,312.1 L172.6,311.9 L173.8,312.2 L175.0,313.2 L176.3,314.6 L177.5,316.2 L178.7,317.8 L179.9,319.0 L181.1,319.9 L182.4,320.8 L183.6,321.5 L184.8,321.9 L186.0,322.1 L187.3,321.7 L188.5,320.8 L189.7,319.9 L190.9,319.2 L192.1,319.4 L193.4,320.7 L194.6,322.9 L195.8,325.4 L197.0,327.7 L198.3,329.2 L199.5,329.8 L200.7,329.9 L201.9,329.7 L203.1,329.4 L204.4,329.4 L205.6,329.6 L206.8,329.7 L208.0,330.0 L209.2,330.3 L210.5,330.7 L211.7,331.4 L212.9,332.3 L214.1,333.2 L215.4,333.9 L216.6,334.3 L217.8,334.0 L219.0,333.2 L220.2,332.3 L221.5,331.7 L222.7,331.6 L223.9,332.5 L225.1,334.1 L226.3,335.8 L227.6,337.3 L228.8,338.0 L230.0,337.5 L231.2,336.2 L232.5,334.6 L233.7,333.3 L234.9,332.8 L236.2,333.5 L237.5,334.9 L238.8,336.7 L240.0,338.4 L241.0,339.7 L241.9,340.6 L242.6,341.3 L243.2,341.8 L243.8,342.1 L244.4,342.3 L244.9,342.3 L245.4,342.1 L245.8,341.8 L246.4,341.3 L247.1,340.6 L248.1,339.5 L249.3,338.0 L250.6,336.5 L251.9,335.4 L253.2,335.0 L254.4,335.8 L255.7,337.5 L256.9,339.5 L258.1,341.2 L259.3,342.0 L260.6,341.5 L261.8,340.2 L263.0,338.5 L264.2,337.2 L265.4,336.7 L266.7,337.5 L268.1,339.0 L269.5,340.9 L270.7,342.7 L271.5,344.0 L272.0,344.8 L272.1,345.3 L272.1,345.6 L272.1,345.5 L272.5,345.2 L273.2,344.3 L274.2,343.0 L275.3,341.4 L276.5,340.0 L277.7,338.9 L278.8,338.2 L280.0,337.8 L281.3,337.5 L282.5,337.4 L283.8,337.6 L285.0,338.1 L286.2,338.9 L287.4,339.8 L288.7,340.8 L289.9,341.7 L291.1,342.6 L292.3,343.6 L293.5,344.5 L294.8,345.1 L296.0,345.2 L297.2,344.6 L298.4,343.4 L299.6,341.9 L300.9,340.5 L302.1,339.3 L303.3,338.4 L304.5,337.5 L305.8,336.8 L307.0,336.3 L308.2,336.1 L309.4,336.3 L310.6,336.8 L311.9,337.6 L313.1,338.4 L314.3,339.1 L315.5,339.9 L316.7,340.7 L318.0,341.6 L319.2,342.3 L320.4,342.8 L321.6,342.9 L322.9,342.7 L324.1,342.4 L325.3,342.2 L326.5,342.4 L327.7,343.1 L329.0,344.1 L330.2,345.3 L331.4,346.5 L332.6,347.6 L333.8,348.6 L335.1,349.6 L336.3,350.5 L337.5,351.3 L338.7,351.9 L340.0,352.2 L341.2,352.2 L342.4,352.1 L343.6,352.0 L344.8,351.9 L346.1,351.9 L347.3,351.9 L348.5,351.8 L349.7,351.7 L351.0,351.3 L352.2,350.5 L353.5,349.3 L354.8,348.0 L356.0,347.1 L357.1,346.8 L357.9,347.4 L358.6,348.8 L359.2,350.4 L359.8,351.8 L360.4,352.6 L361.0,352.5 L361.6,352.0 L362.1,351.2 L362.7,350.3 L363.2,349.6 L363.6,349.0 L364.1,348.5 L364.5,347.9 L364.9,347.6 L365.5,347.5 L366.1,347.9 L366.8,348.6 L367.5,349.4 L368.3,350.2 L369.3,350.5 L370.3,350.3 L371.6,349.6 L372.8,348.8 L374.1,348.2 L375.4,348.1 L376.6,348.6 L377.8,349.7 L379.0,350.9 L380.3,351.9 L381.5,352.6 L382.8,352.8 L384.1,352.8 L385.4,352.6 L386.6,352.2 L387.6,351.8 L388.5,351.1 L389.2,350.2 L389.8,349.1 L390.4,348.3 L391.0,347.8 L391.5,347.8 L392.0,348.1 L392.4,348.6 L393.0,349.1 L393.7,349.6 L394.7,350.0 L395.9,350.3 L397.2,350.7 L398.5,351.1 L399.8,351.6 L401.0,352.2 L402.3,352.8 L403.5,353.5 L404.7,354.1 L405.9,354.6 L407.1,355.0 L408.4,355.4 L409.6,355.8 L410.8,356.0 L412.0,356.0 L413.3,355.7 L414.5,355.2 L415.7,354.6 L416.9,354.1 L418.1,353.9 L419.4,354.2 L420.6,354.8 L421.8,355.5 L423.0,356.0 L424.2,356.0 L425.5,355.3 L426.7,354.1 L427.9,352.7 L429.1,351.3 L430.4,350.1 L431.6,348.9 L432.8,347.7 L434.0,346.5 L435.2,345.8 L436.5,345.6 L437.7,346.3 L438.9,347.8 L440.1,349.6 L441.4,351.2 L442.6,352.2 L443.8,352.3 L445.0,352.0 L446.2,351.4 L447.5,350.9 L448.7,350.7 L449.9,351.1 L451.1,351.8 L452.3,352.7 L453.6,353.3 L454.8,353.5 L456.1,353.1 L457.4,352.3 L458.7,351.3 L459.9,350.3 L460.9,349.5 L461.6,348.8 L462.0,348.2 L462.4,347.7 L462.7,347.4 L463.2,347.4 L463.9,347.9 L464.7,348.9 L465.5,350.0 L466.3,351.2 L467.0,352.1 L467.6,352.9 L468.0,353.7 L468.4,354.4 L468.9,354.9 L469.4,355.0 L470.0,354.7 L470.7,353.9 L471.4,353.0 L472.2,352.2 L473.1,351.6 L474.2,351.3 L475.4,351.2 L476.7,351.2 L478.0,351.3 L479.2,351.6 L480.5,352.1 L481.8,352.8 L483.1,353.5 L484.3,354.3 L485.3,354.9 L486.1,355.4 L486.7,356.0 L487.2,356.4 L487.7,356.7 L488.2,356.7 L488.8,356.5 L489.5,356.1 L490.1,355.5 L490.8,354.7 L491.4,353.8 L492.1,352.5 L492.9,350.7 L493.6,348.9 L494.3,347.4 L495.0,346.5 L495.6,346.4 L496.0,346.8 L496.5,347.6 L497.0,348.5 L497.5,349.3 L498.2,350.1 L498.9,351.1 L499.6,352.1 L500.3,352.8 L501.0,353.3 L501.5,353.3 L502.0,353.0 L502.4,352.6 L502.9,352.0 L503.7,351.6 L504.7,351.3 L505.8,350.9 L507.2,350.6 L508.5,350.3 L509.8,349.9 L511.0,349.5 L512.2,349.1 L513.4,348.7 L514.6,348.3 L515.9,348.0 L517.1,347.7 L518.3,347.4 L519.5,347.2 L520.8,347.2 L522.0,347.4 L523.2,348.1 L524.4,349.1 L525.6,350.3 L526.9,351.2 L528.1,351.6 L529.3,351.2 L530.5,350.3 L531.7,349.1 L533.0,348.2 L534.2,347.8 L535.5,348.3 L536.8,349.3 L538.1,350.6 L539.3,351.7 L540.3,352.2 L541.1,352.0 L541.8,351.2 L542.4,350.2 L542.9,349.4 L543.5,349.1 L544.1,349.4 L544.7,350.0 L545.3,350.8 L545.9,351.7 L546.4,352.5 L546.9,353.3 L547.4,354.2 L547.9,355.0 L548.4,355.6 L549.0,355.9 L549.6,355.7 L550.4,355.1 L551.1,354.3 L551.8,353.4 L552.5,352.7 L553.2,352.0 L553.9,351.2 L554.5,350.4 L555.2,349.8 L555.8,349.5 L556.3,349.5 L556.8,349.7 L557.3,350.2 L557.9,350.7 L558.6,351.2 L559.6,351.8 L560.8,352.7 L562.1,353.5 L563.5,354.2 L564.7,354.6 L566.0,354.6 L567.2,354.3 L568.4,353.9 L569.6,353.5 L570.8,353.3 L572.1,353.3 L573.3,353.3 L574.5,353.4 L575.7,353.5 L576.9,353.6 L578.2,353.7 L579.4,354.0 L580.6,354.1 L581.8,354.2 L583.1,354.1 L584.3,353.6 L585.5,352.9 L586.7,352.1 L587.9,351.4 L589.2,351.1 L590.4,351.3 L591.6,351.8 L592.8,352.5 L594.1,353.2 L595.3,353.8 L596.5,354.3 L597.7,354.9 L598.9,355.4 L600.2,355.8 L601.4,355.9 L602.6,355.8 L604.0,355.4 L605.3,354.9 L606.5,354.3 L607.5,353.8 L608.3,353.2 L609.0,352.5 L609.6,351.8 L610.1,351.3 L610.7,351.1 L611.3,351.3 L611.9,351.7 L612.4,352.3 L613.0,353.0 L613.6,353.6 L614.2,354.3 L614.8,355.3 L615.4,356.1 L616.0,356.8 L616.6,357.0 L617.2,356.7 L617.7,355.9 L618.2,354.9 L618.9,353.9 L619.7,353.0 L620.7,352.1 L621.9,351.1 L623.2,350.1 L624.5,349.5 L625.8,349.4 L627.0,350.1 L628.3,351.4 L629.5,352.9 L630.7,354.4 L631.9,355.3 L633.1,355.7 L634.4,355.8 L635.6,355.7 L636.8,355.5 L638.0,355.2 L639.2,354.8 L640.5,354.2 L641.7,353.5 L642.9,352.8 L644.1,352.2 L645.4,351.7 L646.6,351.2 L647.8,350.7 L649.0,350.3 L650.2,350.1 L651.5,350.0 L652.7,350.0 L653.9,350.1 L655.1,350.4 L656.4,350.9 L657.6,351.7 L658.8,352.7 L660.0,353.8 L661.2,354.9 L662.5,355.8 L663.7,356.5 L664.9,357.2 L666.1,357.8 L667.3,358.1 L668.6,358.3 L669.8,358.1 L671.0,357.7 L672.2,357.1 L673.5,356.5 L674.7,356.0 L675.9,355.6 L677.1,355.2 L678.3,354.9 L679.6,354.6 L680.8,354.5 L682.0,354.5 L683.3,354.6 L684.6,354.7 L685.8,355.0 L686.9,355.3 L687.8,355.7 L688.7,356.3 L689.4,357.0 L690.0,357.5 L690.5,357.9" fill="none" stroke="#c5494d" stroke-width="2.6" stroke-linejoin="round"/>
<g fill="#c5494d" stroke="#fff" stroke-width="0.6"><ellipse cx="82.2" cy="76.8" rx="2.50" ry="2.70"/><ellipse cx="88.3" cy="173.7" rx="2.50" ry="2.70"/><ellipse cx="94.4" cy="230.5" rx="2.50" ry="2.70"/><ellipse cx="100.5" cy="258.7" rx="2.50" ry="2.70"/><ellipse cx="106.6" cy="260.6" rx="2.50" ry="2.70"/><ellipse cx="112.7" cy="263.1" rx="2.50" ry="2.70"/><ellipse cx="118.8" cy="273.2" rx="2.50" ry="2.70"/><ellipse cx="125.0" cy="277.7" rx="2.50" ry="2.70"/><ellipse cx="131.1" cy="287.8" rx="2.50" ry="2.70"/><ellipse cx="137.2" cy="295.9" rx="2.50" ry="2.70"/><ellipse cx="143.3" cy="295.1" rx="2.50" ry="2.70"/><ellipse cx="149.4" cy="297.8" rx="2.50" ry="2.70"/><ellipse cx="155.5" cy="300.5" rx="2.50" ry="2.70"/><ellipse cx="161.6" cy="305.8" rx="2.50" ry="2.70"/><ellipse cx="167.7" cy="312.4" rx="2.50" ry="2.70"/><ellipse cx="173.8" cy="312.2" rx="2.50" ry="2.70"/><ellipse cx="179.9" cy="319.0" rx="2.50" ry="2.70"/><ellipse cx="186.0" cy="322.1" rx="2.50" ry="2.70"/><ellipse cx="192.1" cy="319.4" rx="2.50" ry="2.70"/><ellipse cx="198.3" cy="329.2" rx="2.50" ry="2.70"/><ellipse cx="204.4" cy="329.4" rx="2.50" ry="2.70"/><ellipse cx="210.5" cy="330.7" rx="2.50" ry="2.70"/><ellipse cx="216.6" cy="334.3" rx="2.50" ry="2.70"/><ellipse cx="222.7" cy="331.6" rx="2.50" ry="2.70"/><ellipse cx="228.8" cy="338.0" rx="2.50" ry="2.70"/><ellipse cx="234.9" cy="332.8" rx="2.50" ry="2.70"/><ellipse cx="241.0" cy="339.7" rx="2.50" ry="2.70"/><ellipse cx="247.1" cy="340.6" rx="2.50" ry="2.70"/><ellipse cx="253.2" cy="335.0" rx="2.50" ry="2.70"/><ellipse cx="259.3" cy="342.0" rx="2.50" ry="2.70"/><ellipse cx="265.4" cy="336.7" rx="2.50" ry="2.70"/><ellipse cx="271.5" cy="344.0" rx="2.50" ry="2.70"/><ellipse cx="277.7" cy="338.9" rx="2.50" ry="2.70"/><ellipse cx="283.8" cy="337.6" rx="2.50" ry="2.70"/><ellipse cx="289.9" cy="341.7" rx="2.50" ry="2.70"/><ellipse cx="296.0" cy="345.2" rx="2.50" ry="2.70"/><ellipse cx="302.1" cy="339.3" rx="2.50" ry="2.70"/><ellipse cx="308.2" cy="336.1" rx="2.50" ry="2.70"/><ellipse cx="314.3" cy="339.1" rx="2.50" ry="2.70"/><ellipse cx="320.4" cy="342.8" rx="2.50" ry="2.70"/><ellipse cx="326.5" cy="342.4" rx="2.50" ry="2.70"/><ellipse cx="332.6" cy="347.6" rx="2.50" ry="2.70"/><ellipse cx="338.7" cy="351.9" rx="2.50" ry="2.70"/><ellipse cx="344.8" cy="351.9" rx="2.50" ry="2.70"/><ellipse cx="351.0" cy="351.3" rx="2.50" ry="2.70"/><ellipse cx="357.1" cy="346.8" rx="2.50" ry="2.70"/><ellipse cx="363.2" cy="349.6" rx="2.50" ry="2.70"/><ellipse cx="369.3" cy="350.5" rx="2.50" ry="2.70"/><ellipse cx="375.4" cy="348.1" rx="2.50" ry="2.70"/><ellipse cx="381.5" cy="352.6" rx="2.50" ry="2.70"/><ellipse cx="387.6" cy="351.8" rx="2.50" ry="2.70"/><ellipse cx="393.7" cy="349.6" rx="2.50" ry="2.70"/><ellipse cx="399.8" cy="351.6" rx="2.50" ry="2.70"/><ellipse cx="405.9" cy="354.6" rx="2.50" ry="2.70"/><ellipse cx="412.0" cy="356.0" rx="2.50" ry="2.70"/><ellipse cx="418.1" cy="353.9" rx="2.50" ry="2.70"/><ellipse cx="424.2" cy="356.0" rx="2.50" ry="2.70"/><ellipse cx="430.4" cy="350.1" rx="2.50" ry="2.70"/><ellipse cx="436.5" cy="345.6" rx="2.50" ry="2.70"/><ellipse cx="442.6" cy="352.2" rx="2.50" ry="2.70"/><ellipse cx="448.7" cy="350.7" rx="2.50" ry="2.70"/><ellipse cx="454.8" cy="353.5" rx="2.50" ry="2.70"/><ellipse cx="460.9" cy="349.5" rx="2.50" ry="2.70"/><ellipse cx="467.0" cy="352.1" rx="2.50" ry="2.70"/><ellipse cx="473.1" cy="351.6" rx="2.50" ry="2.70"/><ellipse cx="479.2" cy="351.6" rx="2.50" ry="2.70"/><ellipse cx="485.3" cy="354.9" rx="2.50" ry="2.70"/><ellipse cx="491.4" cy="353.8" rx="2.50" ry="2.70"/><ellipse cx="497.5" cy="349.3" rx="2.50" ry="2.70"/><ellipse cx="503.7" cy="351.6" rx="2.50" ry="2.70"/><ellipse cx="509.8" cy="349.9" rx="2.50" ry="2.70"/><ellipse cx="515.9" cy="348.0" rx="2.50" ry="2.70"/><ellipse cx="522.0" cy="347.4" rx="2.50" ry="2.70"/><ellipse cx="528.1" cy="351.6" rx="2.50" ry="2.70"/><ellipse cx="534.2" cy="347.8" rx="2.50" ry="2.70"/><ellipse cx="540.3" cy="352.2" rx="2.50" ry="2.70"/><ellipse cx="546.4" cy="352.5" rx="2.50" ry="2.70"/><ellipse cx="552.5" cy="352.7" rx="2.50" ry="2.70"/><ellipse cx="558.6" cy="351.2" rx="2.50" ry="2.70"/><ellipse cx="564.7" cy="354.6" rx="2.50" ry="2.70"/><ellipse cx="570.8" cy="353.3" rx="2.50" ry="2.70"/><ellipse cx="576.9" cy="353.6" rx="2.50" ry="2.70"/><ellipse cx="583.1" cy="354.1" rx="2.50" ry="2.70"/><ellipse cx="589.2" cy="351.1" rx="2.50" ry="2.70"/><ellipse cx="595.3" cy="353.8" rx="2.50" ry="2.70"/><ellipse cx="601.4" cy="355.9" rx="2.50" ry="2.70"/><ellipse cx="607.5" cy="353.8" rx="2.50" ry="2.70"/><ellipse cx="613.6" cy="353.6" rx="2.50" ry="2.70"/><ellipse cx="619.7" cy="353.0" rx="2.50" ry="2.70"/><ellipse cx="625.8" cy="349.4" rx="2.50" ry="2.70"/><ellipse cx="631.9" cy="355.3" rx="2.50" ry="2.70"/><ellipse cx="638.0" cy="355.2" rx="2.50" ry="2.70"/><ellipse cx="644.1" cy="352.2" rx="2.50" ry="2.70"/><ellipse cx="650.2" cy="350.1" rx="2.50" ry="2.70"/><ellipse cx="656.4" cy="350.9" rx="2.50" ry="2.70"/><ellipse cx="662.5" cy="355.8" rx="2.50" ry="2.70"/><ellipse cx="668.6" cy="358.3" rx="2.50" ry="2.70"/><ellipse cx="674.7" cy="356.0" rx="2.50" ry="2.70"/><ellipse cx="680.8" cy="354.5" rx="2.50" ry="2.70"/><ellipse cx="686.9" cy="355.3" rx="2.50" ry="2.70"/></g>
</g>
<rect x="80.3" y="36.4" width="610.2" height="347.2" fill="none" stroke="#3c3c3c" stroke-width="0.9"/>
<path d="M80.3,383.6h-3.2M80.3,374.0h-1.8M80.3,364.3h-1.8M80.3,354.7h-1.8M80.3,345.0h-3.2M80.3,335.4h-1.8M80.3,325.7h-1.8M80.3,316.1h-1.8M80.3,306.4h-3.2M80.3,296.8h-1.8M80.3,287.2h-1.8M80.3,277.5h-1.8M80.3,267.9h-3.2M80.3,258.2h-1.8M80.3,248.6h-1.8M80.3,238.9h-1.8M80.3,229.3h-3.2M80.3,219.6h-1.8M80.3,210.0h-1.8M80.3,200.4h-1.8M80.3,190.7h-3.2M80.3,181.1h-1.8M80.3,171.4h-1.8M80.3,161.8h-1.8M80.3,152.1h-3.2M80.3,142.5h-1.8M80.3,132.8h-1.8M80.3,123.2h-1.8M80.3,113.6h-3.2M80.3,103.9h-1.8M80.3,94.3h-1.8M80.3,84.6h-1.8M80.3,75.0h-3.2M80.3,65.3h-1.8M80.3,55.7h-1.8M80.3,46.0h-1.8M80.3,36.4h-3.2M80.3,383.6v3.4M100.6,383.6v1.9M121.0,383.6v1.9M141.3,383.6v1.9M161.7,383.6v1.9M182.0,383.6v3.4M202.3,383.6v1.9M222.7,383.6v1.9M243.0,383.6v1.9M263.4,383.6v1.9M283.7,383.6v3.4M304.0,383.6v1.9M324.4,383.6v1.9M344.7,383.6v1.9M365.1,383.6v1.9M385.4,383.6v3.4M405.7,383.6v1.9M426.1,383.6v1.9M446.4,383.6v1.9M466.8,383.6v1.9M487.1,383.6v3.4M507.4,383.6v1.9M527.8,383.6v1.9M548.1,383.6v1.9M568.5,383.6v1.9M588.8,383.6v3.4M609.1,383.6v1.9M629.5,383.6v1.9M649.8,383.6v1.9M670.2,383.6v1.9M690.5,383.6v3.4" stroke="#3c3c3c" stroke-width="0.9" fill="none"/>
<text class="s" transform="translate(73.0,389.2) scale(1,1.08)" font-size="12.4" text-anchor="end" fill="#1c1c1c">6</text><text class="s" transform="translate(73.0,350.6) scale(1,1.08)" font-size="12.4" text-anchor="end" fill="#1c1c1c">8</text><text class="s" transform="translate(73.0,312.0) scale(1,1.08)" font-size="12.4" text-anchor="end" fill="#1c1c1c">10</text><text class="s" transform="translate(73.0,273.5) scale(1,1.08)" font-size="12.4" text-anchor="end" fill="#1c1c1c">12</text><text class="s" transform="translate(73.0,234.9) scale(1,1.08)" font-size="12.4" text-anchor="end" fill="#1c1c1c">14</text><text class="s" transform="translate(73.0,196.3) scale(1,1.08)" font-size="12.4" text-anchor="end" fill="#1c1c1c">16</text><text class="s" transform="translate(73.0,157.7) scale(1,1.08)" font-size="12.4" text-anchor="end" fill="#1c1c1c">18</text><text class="s" transform="translate(73.0,119.2) scale(1,1.08)" font-size="12.4" text-anchor="end" fill="#1c1c1c">20</text><text class="s" transform="translate(73.0,80.6) scale(1,1.08)" font-size="12.4" text-anchor="end" fill="#1c1c1c">22</text><text class="s" transform="translate(73.0,42.0) scale(1,1.08)" font-size="12.4" text-anchor="end" fill="#1c1c1c">24</text>
<text class="s" transform="translate(80.3,402.2) scale(1,1.08)" font-size="12.4" text-anchor="middle" fill="#1c1c1c">0</text><text class="s" transform="translate(182.0,402.2) scale(1,1.08)" font-size="12.4" text-anchor="middle" fill="#1c1c1c">5000</text><text class="s" transform="translate(283.7,402.2) scale(1,1.08)" font-size="12.4" text-anchor="middle" fill="#1c1c1c">10000</text><text class="s" transform="translate(385.4,402.2) scale(1,1.08)" font-size="12.4" text-anchor="middle" fill="#1c1c1c">15000</text><text class="s" transform="translate(487.1,402.2) scale(1,1.08)" font-size="12.4" text-anchor="middle" fill="#1c1c1c">20000</text><text class="s" transform="translate(588.8,402.2) scale(1,1.08)" font-size="12.4" text-anchor="middle" fill="#1c1c1c">25000</text><text class="s" transform="translate(690.5,402.2) scale(1,1.08)" font-size="12.4" text-anchor="middle" fill="#1c1c1c">30000</text>
<text class="sb" transform="translate(385.4,23.9) scale(1,1.08)" font-size="16.0" text-anchor="middle" fill="#111">Training Loss Curves of Models at Different Scales</text>
<text class="sb" transform="translate(385.4,420.3) scale(1,1.08)" font-size="14.4" text-anchor="middle" fill="#111">Training Steps</text>
<text class="sb" transform="translate(51.7,210.2) scale(1,1.08) rotate(-90)" font-size="14.4" text-anchor="middle" fill="#111">Loss Value</text>
<rect x="552" y="46" width="135.5" height="102" rx="2.5" fill="#8a8a8a"/>
<rect x="549.8" y="43.7" width="135.5" height="102" rx="2.5" fill="#fff" stroke="#ccc" stroke-width="1"/>
<path d="M561,63.1H588.8" stroke="#4f79ae" stroke-width="2.9"/><text class="s" transform="translate(598.5,68.1) scale(1,1.08)" font-size="12.65" fill="#1c1c1c">0.05B</text>
<path d="M561,83.4H588.8" stroke="#e78e52" stroke-width="2.9"/><text class="s" transform="translate(598.5,88.4) scale(1,1.08)" font-size="12.65" fill="#1c1c1c">0.1B</text>
<path d="M561,103.7H588.8" stroke="#5ca556" stroke-width="2.9"/><text class="s" transform="translate(598.5,108.7) scale(1,1.08)" font-size="12.65" fill="#1c1c1c">0.5B-A0.1B</text>
<path d="M561,124.0H588.8" stroke="#c5494d" stroke-width="2.9"/><text class="s" transform="translate(598.5,129.0) scale(1,1.08)" font-size="12.65" fill="#1c1c1c">1.3B-A0.1B</text>
<path d="M767.5,360.5H1396.6M767.5,314.2H1396.6M767.5,267.9H1396.6M767.5,221.6H1396.6M767.5,175.3H1396.6M767.5,129.0H1396.6M767.5,82.7H1396.6" stroke="#f1f1f1" stroke-width="1" fill="none"/>
<path d="M796.3,75L1368,303" stroke="#e25a4e" stroke-width="2.1" stroke-dasharray="7.4 3.35" fill="none"/>
<rect x="767.5" y="36.4" width="629.1" height="347.2" fill="none" stroke="#3c3c3c" stroke-width="0.9"/>
<path d="M767.5,360.5h-3.2M767.5,314.2h-3.2M767.5,267.9h-3.2M767.5,221.6h-3.2M767.5,175.3h-3.2M767.5,129.0h-3.2M767.5,82.7h-3.2M767.5,36.4h-3.2M859.3,383.6v3.4M954.0,383.6v3.4M1173.9,383.6v3.4M1304.4,383.6v3.4" stroke="#3c3c3c" stroke-width="0.9" fill="none"/>
<text class="s" transform="translate(760.0,366.1) scale(1,1.08)" font-size="12.4" text-anchor="end" fill="#1c1c1c">6.6</text><text class="s" transform="translate(760.0,319.8) scale(1,1.08)" font-size="12.4" text-anchor="end" fill="#1c1c1c">6.8</text><text class="s" transform="translate(760.0,273.5) scale(1,1.08)" font-size="12.4" text-anchor="end" fill="#1c1c1c">7.0</text><text class="s" transform="translate(760.0,227.2) scale(1,1.08)" font-size="12.4" text-anchor="end" fill="#1c1c1c">7.2</text><text class="s" transform="translate(760.0,180.9) scale(1,1.08)" font-size="12.4" text-anchor="end" fill="#1c1c1c">7.4</text><text class="s" transform="translate(760.0,134.6) scale(1,1.08)" font-size="12.4" text-anchor="end" fill="#1c1c1c">7.6</text><text class="s" transform="translate(760.0,88.3) scale(1,1.08)" font-size="12.4" text-anchor="end" fill="#1c1c1c">7.8</text><text class="s" transform="translate(760.0,42.0) scale(1,1.08)" font-size="12.4" text-anchor="end" fill="#1c1c1c">8.0</text>
<text class="ss" transform="translate(859.3,401.5) scale(1,1.08)" font-size="12.1" text-anchor="middle" fill="#1c1c1c">10<tspan dy="-4.6" font-size="8.8">7</tspan></text><text class="ss" transform="translate(954.0,401.5) scale(1,1.08)" font-size="12.1" text-anchor="middle" fill="#1c1c1c">10<tspan dy="-4.6" font-size="8.8">8</tspan></text><text class="ss" transform="translate(1173.9,401.5) scale(1,1.08)" font-size="12.1" text-anchor="middle" fill="#1c1c1c">10<tspan dy="-4.6" font-size="8.8">8</tspan></text><text class="ss" transform="translate(1304.4,401.5) scale(1,1.08)" font-size="12.1" text-anchor="middle" fill="#1c1c1c">10<tspan dy="-4.6" font-size="8.8">9</tspan></text>
<rect x="860.0" y="54.3" width="50.5" height="25.5" rx="3" fill="#ffffe0" stroke="#3a3a3a" stroke-width="0.9"/><text class="sb" transform="translate(863.9,54.3) scale(1,1.08)" font-size="8.05" fill="#111"><tspan x="0" y="9.35">50M</tspan><tspan x="0" y="18.33">loss=7.78</tspan></text>
<rect x="954.4" y="154.0" width="45.7" height="25.5" rx="3" fill="#ffffe0" stroke="#3a3a3a" stroke-width="0.9"/><text class="sb" transform="translate(958.3,154.0) scale(1,1.08)" font-size="8.05" fill="#111"><tspan x="0" y="9.35">100M</tspan><tspan x="0" y="18.33">loss=7.5</tspan></text>
<rect x="1174.5" y="195.4" width="50.7" height="25.3" rx="3" fill="#ffffe0" stroke="#3a3a3a" stroke-width="0.9"/><text class="sb" transform="translate(1178.4,195.4) scale(1,1.08)" font-size="8.05" fill="#111"><tspan x="0" y="9.35">500M</tspan><tspan x="0" y="18.33">loss=7.17</tspan></text>
<rect x="1305.3" y="274.1" width="50.6" height="25.3" rx="3" fill="#ffffe0" stroke="#3a3a3a" stroke-width="0.9"/><text class="sb" transform="translate(1309.2,274.1) scale(1,1.08)" font-size="8.05" fill="#111"><tspan x="0" y="9.35">1.30B</tspan><tspan x="0" y="18.33">loss=6.98</tspan></text>
<ellipse cx="859.3" cy="87.3" rx="5.1" ry="5.51" fill="#6a8cba" stroke="#14148a" stroke-width="2.1"/><ellipse cx="954.0" cy="152.1" rx="5.1" ry="5.51" fill="#6a8cba" stroke="#14148a" stroke-width="2.1"/><ellipse cx="1173.9" cy="228.5" rx="5.1" ry="5.51" fill="#6a8cba" stroke="#14148a" stroke-width="2.1"/><ellipse cx="1304.4" cy="272.5" rx="5.1" ry="5.51" fill="#6a8cba" stroke="#14148a" stroke-width="2.1"/>
<text class="sb" transform="translate(1082.0,23.9) scale(1,1.08)" font-size="16.0" text-anchor="middle" fill="#111">Model Parameters vs Loss</text>
<text class="sb" transform="translate(1082.0,420.3) scale(1,1.08)" font-size="14.4" text-anchor="middle" fill="#111">Model Parameters (log scale)</text>
<text class="sb" transform="translate(734.7,210.2) scale(1,1.08) rotate(-90)" font-size="14.4" text-anchor="middle" fill="#111">Loss Value</text>
<rect x="1266.7" y="43.4" width="123" height="24.8" rx="2.5" fill="#fff" stroke="#d4d4d4" stroke-width="1"/>
<ellipse cx="1284.5" cy="55.7" rx="5.1" ry="5.51" fill="#6a8cba" stroke="#14148a" stroke-width="2.1"/><text class="s" transform="translate(1307.9,60.6) scale(1,1.08)" font-size="12.95" fill="#1c1c1c">Actual Data</text>
<text class="cap" y="535.5" font-size="46.5" fill="#000"><tspan x="32.8" textLength="138.0" lengthAdjust="spacingAndGlyphs">Figure</tspan> <tspan x="184.0" textLength="39.7" lengthAdjust="spacingAndGlyphs">6:</tspan> <tspan x="232.9" textLength="187.6" lengthAdjust="spacingAndGlyphs">OneMall</tspan> <tspan x="432.5" textLength="153.6" lengthAdjust="spacingAndGlyphs">scaling</tspan> <tspan x="597.5" textLength="117.2" lengthAdjust="spacingAndGlyphs">trend</tspan> <tspan x="726.4" textLength="40.6" lengthAdjust="spacingAndGlyphs">at</tspan> <tspan x="779.3" textLength="70.8" lengthAdjust="spacingAndGlyphs">the</tspan> <tspan x="861.4" textLength="255.9" lengthAdjust="spacingAndGlyphs">Short-video</tspan> <tspan x="1129.2" textLength="193.7" lengthAdjust="spacingAndGlyphs">scenario.</tspan></text>
</svg>
<div class="wm" style="position:absolute;left:1108px;top:541.4px;font-size:24.5px;line-height:34px;white-space:nowrap;color:#f7f7f7;text-shadow:1px 1px 1px rgba(0,0,0,0.62),0 0 1.5px rgba(0,0,0,0.35)">掘金技术社区 @ 算法小强</div>
</body></html>
